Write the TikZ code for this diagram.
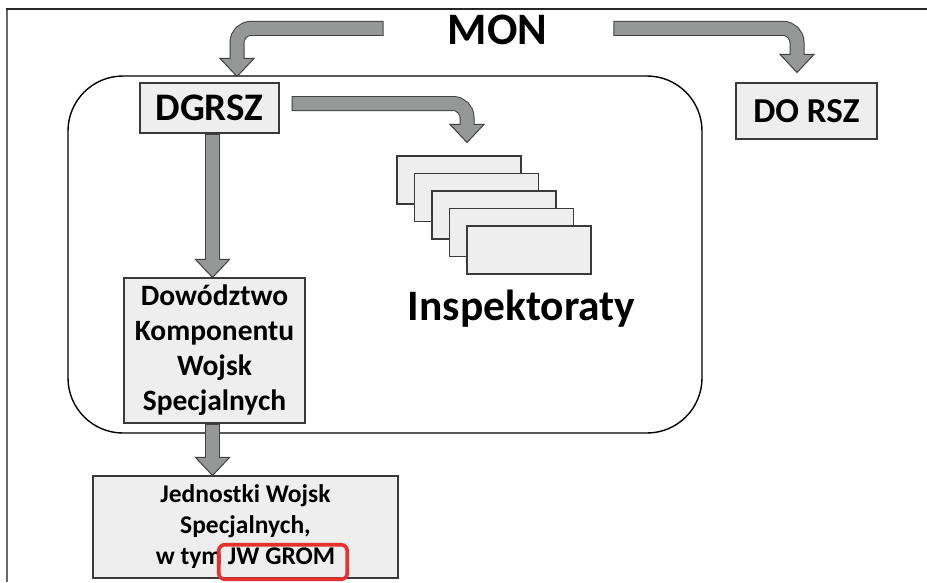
\documentclass[tikz,border=0pt]{standalone}
\usepackage{fontspec}
\setmainfont{Carlito}
\usetikzlibrary{calc}
\definecolor{boxfill}{HTML}{EEEEEE}
\definecolor{boxline}{HTML}{3A3A3A}
\definecolor{arrgray}{HTML}{969898}
\definecolor{arrline}{HTML}{404040}
\definecolor{gromred}{HTML}{E8312E}
\definecolor{framegray}{HTML}{666666}
\newcommand\barrow[3]{%
  \draw[shaftout] #1 #2 ($#3+(0,-18)$);
  \filldraw[headst] ($#3+(-17,-18)$) -- #3 -- ($#3+(17,-18)$) -- cycle;
  \draw[shaftin] #1 #2 ($#3+(0,-16)$);
}
\begin{document}
\begin{tikzpicture}[x=1pt,y=-1pt,
  box/.style={draw=boxline, fill=boxfill, line width=1.1pt, inner sep=0pt, align=center},
  stk/.style={draw=boxline, fill=boxfill, line width=1.1pt, inner sep=0pt, minimum width=124pt, minimum height=48pt},
  shaftout/.style={draw=arrline, line width=15pt, rounded corners=14pt},
  shaftin/.style={draw=arrgray, line width=13pt, rounded corners=14pt, shorten <=1pt},
  headst/.style={fill=arrgray, draw=arrline, line width=1pt, line join=miter},
  title/.style={font=\bfseries\fontsize{45}{54}\selectfont, inner sep=0pt, anchor=base},
]
\useasboundingbox (0,0) rectangle (927,582);
\fill[white] (0,0) rectangle (927,582);
% slide frame
\draw[framegray, line width=1.3pt] (7,582) -- (7,9);
\draw[black!85, line width=1.3pt] (6.4,9) -- (927,9);

% container
\node[draw=black, line width=1.4pt, rounded corners=55pt, minimum width=634pt, minimum height=357pt, inner sep=0pt] (org) at (385,254.5) {};

% nodes
\node[title] (mon) at (497.5,44) {MON};
\node[box, minimum width=139pt, minimum height=50pt, font=\bfseries\fontsize{39}{47}\selectfont] (dgrsz) at (209.5,108) {DGRSZ};
\node[box, minimum width=141pt, minimum height=56pt, font=\bfseries\fontsize{35}{42}\selectfont] (dorsz) at (806.5,111) {DO RSZ};
\node[box, minimum width=181pt, minimum height=145pt, font=\bfseries\fontsize{29.5}{35}\selectfont] (dkws) at (214.5,350.5) {Dowództwo\\Komponentu\\Wojsk\\Specjalnych};
\node[box, minimum width=305pt, minimum height=102pt, font=\bfseries\fontsize{25.5}{31}\selectfont] (jws) at (245.5,527) {Jednostki Wojsk\\Specjalnych,\\w tym JW GROM};
\node[draw=gromred, line width=3.6pt, rounded corners=6pt, minimum width=128.5pt, minimum height=34.5pt, inner sep=0pt] (grom) at (283,562) {};

\foreach \i in {0,...,4}{
  \node[stk] (s\i) at ({459+17.5*\i},{180+17.5*\i}) {};
}
\node[font=\bfseries\fontsize{43.5}{53}\selectfont, inner sep=0pt, anchor=base] (insp) at (521.5,320) {Inspektoraty};

% connectors
\coordinate (a1s) at ($(mon.west)+(-64,-1)$);
\coordinate (a1t) at ($(dgrsz.north)+(27.5,-6)$);
\barrow{(a1s)}{-|}{(a1t)}
\coordinate (a2s) at ($(mon.east)+(66,-1)$);
\coordinate (a2t) at ($(dorsz.north)+(-9.5,-10)$);
\barrow{(a2s)}{-|}{(a2t)}
\coordinate (a3s) at ($(dgrsz.east)+(12,-4.5)$);
\coordinate (a3t) at ($(s0.north)+(8,-13)$);
\barrow{(a3s)}{-|}{(a3t)}
\coordinate (a4t) at ($(dkws.north)+(-2,0)$);
\coordinate (a4s) at (a4t |- dgrsz.south);
\barrow{(a4s)}{--}{(a4t)}
\coordinate (a5t) at ($(jws.north)+(-33,0)$);
\coordinate (a5s) at (a5t |- dkws.south);
\barrow{(a5s)}{--}{(a5t)}
\end{tikzpicture}
\end{document}
